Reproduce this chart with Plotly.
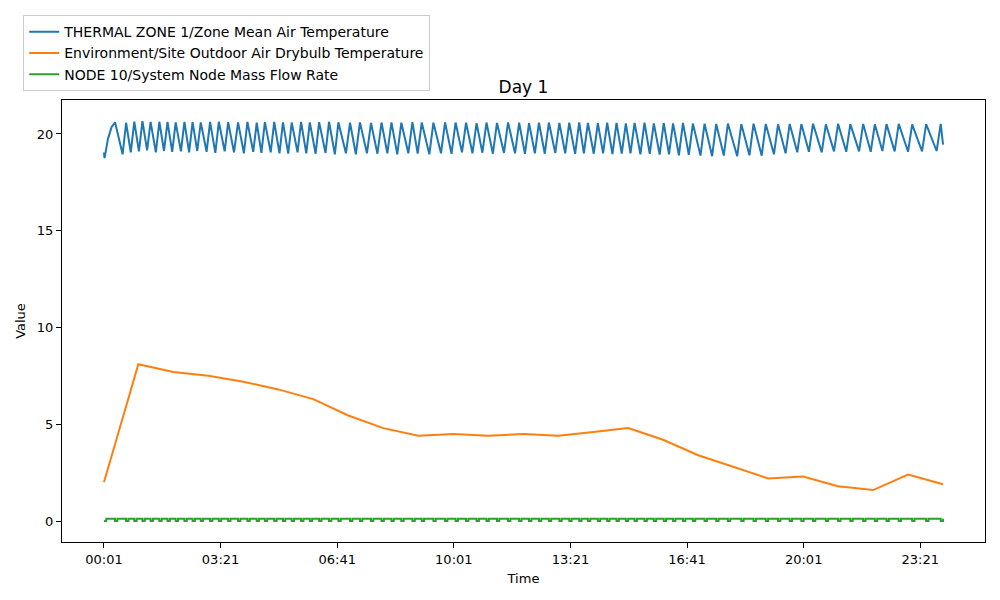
import plotly.graph_objects as go

# ---- data ----
tick_idx = [0, 200, 400, 600, 800, 1000, 1200, 1400]
tick_labels = ["00:01", "03:21", "06:41", "10:01", "13:21", "16:41", "20:01", "23:21"]

# Zone temperature: turning points (minute index, value)
zone_start_idx = [0, 1, 7, 13]
zone_start_val = [19.05, 18.75, 19.76, 20.35]
peak_idx = [19, 38, 52, 66, 80, 95, 109, 123, 138, 152, 166, 182, 197, 213,
            230, 246, 262, 276, 292, 307, 322, 338, 353, 369, 386, 402, 422, 439, 458, 476,
            493, 510, 529, 545, 565, 585, 603,
            621, 639, 656, 674, 693, 712, 729, 746, 763, 781, 798, 815, 830, 847, 863, 879,
            895, 910, 927, 943, 960, 976, 993, 1010,
            1030, 1050, 1070, 1093, 1114, 1135, 1156, 1176, 1196, 1216, 1238, 1259, 1280,
            1302, 1322, 1342, 1363, 1386, 1410, 1435]
peak_val = [20.60, 20.58, 20.64, 20.66, 20.62, 20.63, 20.62, 20.60, 20.62, 20.61, 20.60, 20.62, 20.63, 20.61,
            20.60, 20.62, 20.58, 20.61, 20.62, 20.60, 20.59, 20.62, 20.60, 20.61, 20.63, 20.60, 20.58, 20.60,
            20.57, 20.59, 20.60, 20.58, 20.61, 20.59, 20.58, 20.60, 20.59,
            20.58, 20.56, 20.59, 20.57, 20.60, 20.58, 20.56, 20.58, 20.59, 20.57, 20.58, 20.60, 20.57, 20.56,
            20.58, 20.57, 20.55, 20.57, 20.58, 20.55, 20.56, 20.55, 20.57, 20.54,
            20.53, 20.52, 20.54, 20.51, 20.53, 20.52, 20.50, 20.52, 20.51, 20.53, 20.50, 20.52, 20.51,
            20.52, 20.50, 20.51, 20.52, 20.50, 20.51, 20.52]
trough_idx = [32, 46, 60, 74, 89, 103, 117, 132, 146, 160, 176, 191, 207,
              223, 240, 256, 270, 286, 301, 316, 332, 347, 363, 380, 396, 415, 432, 451, 469,
              486, 503, 522, 538, 558, 578, 596,
              614, 632, 649, 667, 686, 705, 722, 739, 756, 774, 791, 808, 823, 840, 856, 872,
              888, 903, 920, 936, 953, 969, 986, 1003,
              1023, 1043, 1063, 1086, 1107, 1128, 1149, 1169, 1189, 1209, 1231, 1252, 1273,
              1295, 1315, 1335, 1356, 1379, 1403, 1428]
trough_val = [18.95, 19.05, 19.10, 19.15, 19.05, 19.12, 19.08, 19.10, 19.05, 19.12, 19.08, 19.02, 19.10,
              19.05, 19.00, 19.08, 19.02, 19.05, 19.00, 18.98, 19.05, 19.00, 18.98, 19.02, 18.95, 19.00,
              18.95, 19.00, 18.98, 19.00, 18.95, 19.00, 18.98, 18.95, 19.00, 18.97,
              19.05, 19.00, 19.03, 18.98, 19.02, 19.00, 18.97, 19.00, 18.98, 19.02, 19.00, 18.97, 19.00,
              18.98, 19.00, 18.96, 18.98, 19.00, 18.95, 18.97, 18.93, 18.95, 18.90, 18.92,
              18.88, 18.85, 18.88, 18.85, 18.90, 18.88, 18.95, 19.00, 19.05, 19.08, 19.05, 19.10, 19.08,
              19.10, 19.08, 19.12, 19.10, 19.08, 19.10, 19.12]
zone_end_idx = [1439]
zone_end_val = [19.45]

# Outdoor drybulb temperature (hourly points)
outdoor_idx = [0, 59, 119, 179, 239, 299, 359, 419, 479, 539, 599, 659, 719, 779, 839,
               899, 959, 1019, 1079, 1139, 1199, 1259, 1319, 1379, 1439]
outdoor_val = [2.0, 8.1, 7.7, 7.5, 7.2, 6.8, 6.3, 5.45, 4.8, 4.4, 4.5, 4.4, 4.5, 4.4, 4.6,
               4.8, 4.2, 3.4, 2.8, 2.2, 2.3, 1.8, 1.6, 2.4, 1.9]

# Node mass flow rate: on level, off level, off-dip starts and dip length (minutes)
flow_on = 0.12
flow_off = 0.0
flow_first_on = 4
flow_dip_start = peak_idx
flow_dip_len = 4

# ---- build series ----
zone_x = list(zone_start_idx) + [peak_idx[0]]
zone_y = list(zone_start_val) + [peak_val[0]]
for t, tv, p, pv in zip(trough_idx, trough_val, peak_idx[1:], peak_val[1:]):
    zone_x += [t, p]
    zone_y += [tv, pv]
zone_x += zone_end_idx
zone_y += zone_end_val

flow_x = [0, flow_first_on]
flow_y = [flow_off, flow_on]
for s in flow_dip_start:
    flow_x += [s, min(s + flow_dip_len, 1439)]
    flow_y += [flow_off, flow_on]
flow_x.append(1439)
flow_y.append(flow_off)

fig = go.Figure()
fig.add_trace(go.Scatter(x=zone_x, y=zone_y, mode="lines",
                         name="THERMAL ZONE 1/Zone Mean Air Temperature",
                         line=dict(color="#1f77b4", width=2)))
fig.add_trace(go.Scatter(x=outdoor_idx, y=outdoor_val, mode="lines",
                         name="Environment/Site Outdoor Air Drybulb Temperature",
                         line=dict(color="#ff7f0e", width=2)))
fig.add_trace(go.Scatter(x=flow_x, y=flow_y, mode="lines", line_shape="hv",
                         name="NODE 10/System Node Mass Flow Rate",
                         line=dict(color="#2ca02c", width=2)))

font = "DejaVu Sans"
fig.update_layout(
    width=1000, height=600,
    paper_bgcolor="white", plot_bgcolor="white",
    margin=dict(l=62, r=15, t=100, b=58, autoexpand=False),
    font=dict(family=font, size=14, color="black"),
    title=dict(text="Day 1", x=(62 + 985) / 2 / 1000, xanchor="center",
               y=1 - 87 / 600, yanchor="middle", font=dict(size=17, color="black")),
    showlegend=True,
    legend=dict(x=-0.042, y=1.192, xanchor="left", yanchor="top",
                bordercolor="#cccccc", borderwidth=1, bgcolor="white",
                font=dict(size=14), tracegroupgap=0, itemwidth=30),
    xaxis=dict(range=[-71.95, 1510.95], tickmode="array", tickvals=tick_idx, ticktext=tick_labels,
               showgrid=False, zeroline=False, showline=True, linecolor="black", linewidth=1,
               mirror=True, ticks="outside", ticklen=5, tickcolor="black", automargin=False,
               tickfont=dict(size=13),
               title=dict(text="Time", font=dict(size=13), standoff=8)),
    yaxis=dict(range=[-1.085, 21.755], tickvals=[0, 5, 10, 15, 20],
               showgrid=False, zeroline=False, showline=True, linecolor="black", linewidth=1,
               mirror=True, ticks="outside", ticklen=5, tickcolor="black", automargin=False,
               tickfont=dict(size=13),
               title=dict(text="Value", font=dict(size=13), standoff=8)),
)

fig.write_html("out.html", config={"displayModeBar": False})

# remove the browser's default page margin so the figure sits at the window origin
with open("out.html", "r", encoding="utf-8") as f:
    html = f.read()
html = html.replace("<body>", '<body style="margin:0;padding:0;">', 1)
with open("out.html", "w", encoding="utf-8") as f:
    f.write(html)
